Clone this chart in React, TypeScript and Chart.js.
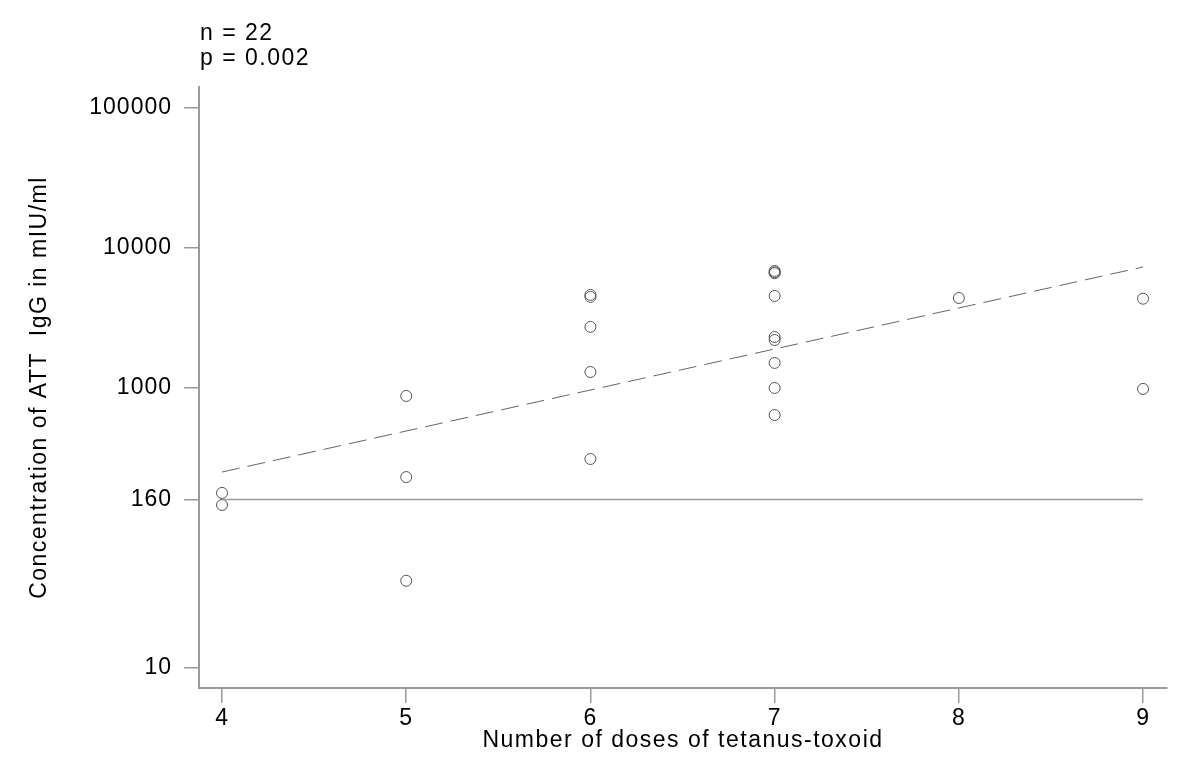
import React, { useEffect, useRef } from "react";
import { Chart, registerables } from "chart.js";

Chart.register(...registerables);

// Data
const doses = [4, 4, 5, 5, 5, 6, 6, 6, 6, 6, 7, 7, 7, 7, 7, 7, 7, 7, 7, 8, 9, 9];
const concentrations = [
  178, 146, 877, 231, 42, 4620, 4470, 2730, 1300, 311, 6850, 6700, 6600, 4540,
  2310, 2200, 1510, 1000, 641, 4390, 4340, 984,
];
const fitDoses = [4, 9];
const fitValues = [251, 7310];
const thresholdDoses = [4, 9];
const thresholdValues = [160, 160];
const xTicks = [4, 5, 6, 7, 8, 9];
const yTicks = [10, 160, 1000, 10000, 100000];
const annotationLines = ["n = 22", "p = 0.002"];
const xTitle = "Number of doses of tetanus-toxoid";
const yTitle = "Concentration of ATT  IgG in mIU/ml";

const FONT = '"Liberation Sans", Arial, Helvetica, sans-serif';

const textPlugin = {
  id: "textPlugin",
  beforeDraw(chart: any) {
    chart.ctx.letterSpacing = "1px";
  },
  afterDraw(chart: any) {
    const ctx = chart.ctx as CanvasRenderingContext2D;
    const area = chart.chartArea;
    ctx.save();
    (ctx as any).letterSpacing = "1.5px";
    ctx.fillStyle = "#000";
    ctx.font = `23px ${FONT}`;
    ctx.textAlign = "left";
    ctx.textBaseline = "alphabetic";
    ctx.fillText(annotationLines[0], 200, 40);
    ctx.fillText(annotationLines[1], 200, 65);
    ctx.textAlign = "center";
    ctx.fillText(xTitle, (area.left + area.right) / 2, 747);
    ctx.translate(46, (area.top + area.bottom) / 2);
    ctx.rotate(-Math.PI / 2);
    ctx.fillText(yTitle, 0, 0);
    ctx.restore();
  },
};

export default function App() {
  const canvasRef = useRef<HTMLCanvasElement | null>(null);

  useEffect(() => {
    if (!canvasRef.current) return;
    const chart = new Chart(canvasRef.current, {
      type: "scatter",
      data: {
        datasets: [
          {
            type: "line",
            data: thresholdDoses.map((d, i) => ({ x: d, y: thresholdValues[i] })),
            borderColor: "#9a9a9a",
            borderWidth: 1.5,
            pointRadius: 0,
            fill: false,
          } as any,
          {
            type: "line",
            data: fitDoses.map((d, i) => ({ x: d, y: fitValues[i] })),
            borderColor: "#666",
            borderWidth: 1,
            borderDash: [18, 8],
            pointRadius: 0,
            fill: false,
          } as any,
          {
            type: "scatter",
            data: doses.map((d, i) => ({ x: d, y: concentrations[i] })),
            pointRadius: 5.5,
            pointStyle: "circle",
            borderColor: "#555",
            backgroundColor: "rgba(0,0,0,0)",
            borderWidth: 1,
            showLine: false,
          } as any,
        ],
      },
      options: {
        animation: false,
        responsive: false,
        devicePixelRatio: 1,
        layout: { padding: { top: 87, right: 33, left: 0, bottom: 0 } },
        plugins: {
          legend: { display: false },
          tooltip: { enabled: false },
        },
        scales: {
          x: {
            type: "linear",
            min: 3.875,
            max: 9.13,
            afterFit: (s: any) => {
              s.height = 96;
            },
            afterBuildTicks: (s: any) => {
              s.ticks = xTicks.map((v) => ({ value: v }));
            },
            ticks: {
              font: { size: 23, family: FONT },
              color: "#000",
              padding: 2,
              maxRotation: 0,
              callback: (v: any) => String(v),
            },
            grid: {
              drawOnChartArea: false,
              drawTicks: true,
              tickLength: 15,
              color: "#9a9a9a",
              lineWidth: 1.5,
            },
            border: { display: true, color: "#9a9a9a", width: 2 },
          },
          y: {
            type: "logarithmic",
            min: 7.2,
            max: 141000,
            afterFit: (s: any) => {
              s.width = 199;
            },
            afterBuildTicks: (s: any) => {
              s.ticks = yTicks.map((v) => ({ value: v }));
            },
            ticks: {
              font: { size: 23, family: FONT },
              color: "#000",
              padding: 12,
              callback: (v: any) => String(v),
            },
            grid: {
              drawOnChartArea: false,
              drawTicks: true,
              tickLength: 15,
              color: "#9a9a9a",
              lineWidth: 1.5,
            },
            border: { display: true, color: "#9a9a9a", width: 2 },
          },
        },
      },
      plugins: [textPlugin],
    } as any);
    return () => chart.destroy();
  }, []);

  return (
    <div style={{ position: "absolute", left: 0, top: 0, width: 1200, height: 784, background: "#fff" }}>
      <canvas ref={canvasRef} width={1200} height={784} />
    </div>
  );
}
